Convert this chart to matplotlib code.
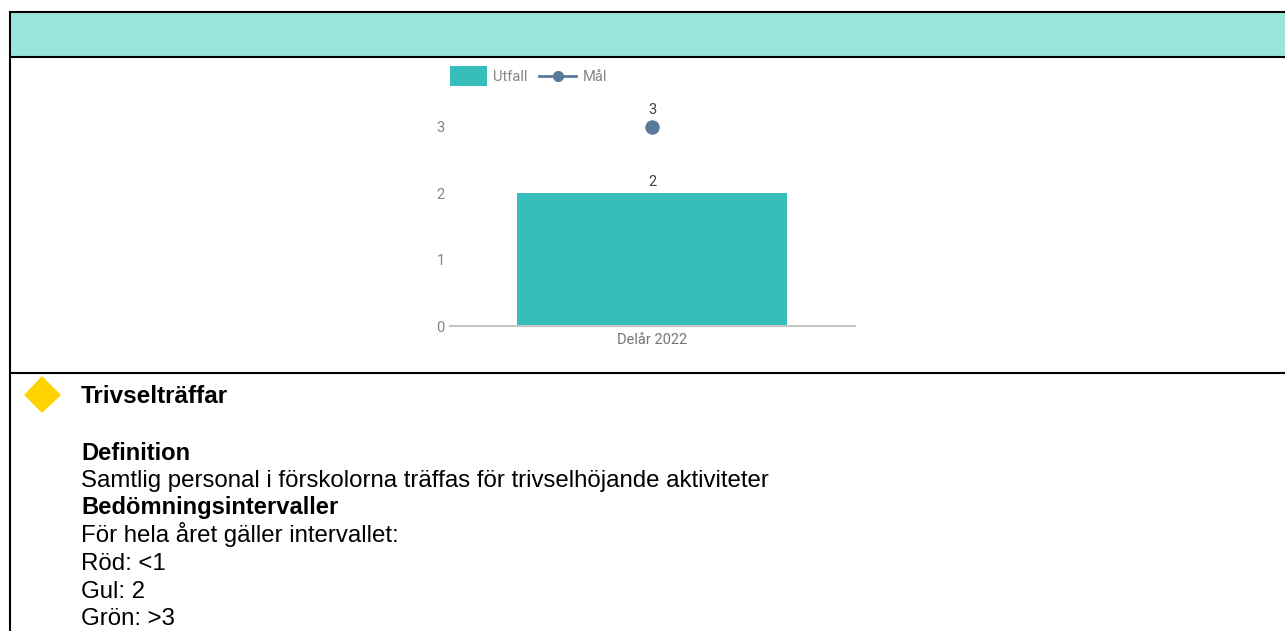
import matplotlib
matplotlib.use("Agg")
import matplotlib.pyplot as plt
from matplotlib.legend_handler import HandlerLine2D
from matplotlib.patches import Polygon, Rectangle
from matplotlib.lines import Line2D

# chart data
categories = ["Delår 2022"]
utfall = [2]
mal = [3]
y_ticks = [0, 1, 2, 3]

# text under the chart
heading = "Trivselträffar"
body_lines = [
    ("Definition", "bold", 459.5),
    ("Samtlig personal i förskolorna träffas för trivselhöjande aktiviteter", "normal", 486.7),
    ("Bedömningsintervaller", "bold", 514.4),
    ("För hela året gäller intervallet:", "normal", 542.1),
    ("Röd: <1", "normal", 569.8),
    ("Gul: 2", "normal", 597.5),
    ("Grön: >3", "normal", 625.2),
]


# default handler sits the line a bit high next to the rectangle
class CenteredLine(HandlerLine2D):
    def create_artists(self, legend, orig_handle, xdescent, ydescent, width, height, fontsize, trans):
        return super().create_artists(legend, orig_handle, xdescent, ydescent + 3, width, height,
                                       fontsize, trans)


W, H = 1285, 631
fig = plt.figure(figsize=(W / 100, H / 100), dpi=100, facecolor="white")

# page layer in pixel coordinates
page = fig.add_axes([0, 0, 1, 1])
page.set_xlim(0, W)
page.set_ylim(H, 0)
page.axis("off")

page.add_patch(Rectangle((9, 12), W - 9, 44.5, fc="#9AE4DE", ec="none"))
page.plot([9, W], [12, 12], color="black", lw=1.5, solid_capstyle="butt")
page.plot([9, W], [56.5, 56.5], color="black", lw=1.5, solid_capstyle="butt")
page.plot([9, W], [372.5, 372.5], color="black", lw=1.5, solid_capstyle="butt")
page.plot([10, 10], [11, H], color="black", lw=1.5, solid_capstyle="butt")

page.add_patch(Polygon([(42, 376), (61, 395), (42, 413), (24, 395)], fc="#FFD200", ec="none"))
page.text(81, 403.3, heading, family="Liberation Sans", fontsize=17.5, fontweight="bold",
          color="black", va="baseline")
for txt, weight, y in body_lines:
    size = 17.1 if weight == "bold" else 17.25
    page.text(81, y, txt, family="Liberation Sans", fontsize=size, fontweight=weight,
              color="black", va="baseline")

# chart
ax = fig.add_axes([449.5 / W, 1 - 326 / H, 405.5 / W, 226 / H])
ax.patch.set_alpha(0)
x = list(range(len(categories)))
ax.bar(x, utfall, width=2 / 3, color="#36BDBC", zorder=2)
ax.plot(x, mal, color="#5A7A99", marker="o", markersize=9.4, lw=2, zorder=3)
ax.set_xlim(-0.5, 0.5)
ax.set_ylim(0, 226 / (199 / 3))
ax.set_xticks(x)
ax.set_xticklabels(categories, family="Roboto", fontsize=10.5, color="#757575")
ax.set_yticks(y_ticks)
ax.set_yticklabels([str(v) for v in y_ticks], family="Roboto", fontsize=10.5, color="#858585")
ax.tick_params(axis="both", length=0)
ax.tick_params(axis="x", pad=5)
ax.tick_params(axis="y", pad=3.5)
for s in ["top", "left", "right"]:
    ax.spines[s].set_visible(False)
ax.spines["bottom"].set_color("#C4C4C4")
ax.spines["bottom"].set_linewidth(1.5)

for i, v in zip(x, utfall):
    ax.annotate(str(v), (i, v), xytext=(0, 5.3), textcoords="offset points", ha="center",
                va="baseline", family="Roboto", fontsize=10.5, color="#424242")
for i, v in zip(x, mal):
    ax.annotate(str(v), (i, v), xytext=(0, 9.1), textcoords="offset points", ha="center",
                va="baseline", family="Roboto", fontsize=10.5, color="#424242")

line_handle = Line2D([0], [0], color="#5A7A99", marker="o", markersize=7, lw=2)
handles = [Rectangle((0, 0), 1, 1, fc="#36BDBC", ec="none"), line_handle]
fig.legend(handles, ["Utfall", "Mål"], loc="center left", bbox_to_anchor=(449.5 / W, 1 - 76 / H),
           ncol=2, frameon=False, handlelength=2.6, handleheight=1.7, handletextpad=0.4,
           columnspacing=0.75, borderpad=0, borderaxespad=0,
           handler_map={line_handle: CenteredLine()},
           labelcolor="#858585", prop={"family": "Roboto", "size": 10.5})

fig.savefig("out.png", dpi=100, facecolor="white")
